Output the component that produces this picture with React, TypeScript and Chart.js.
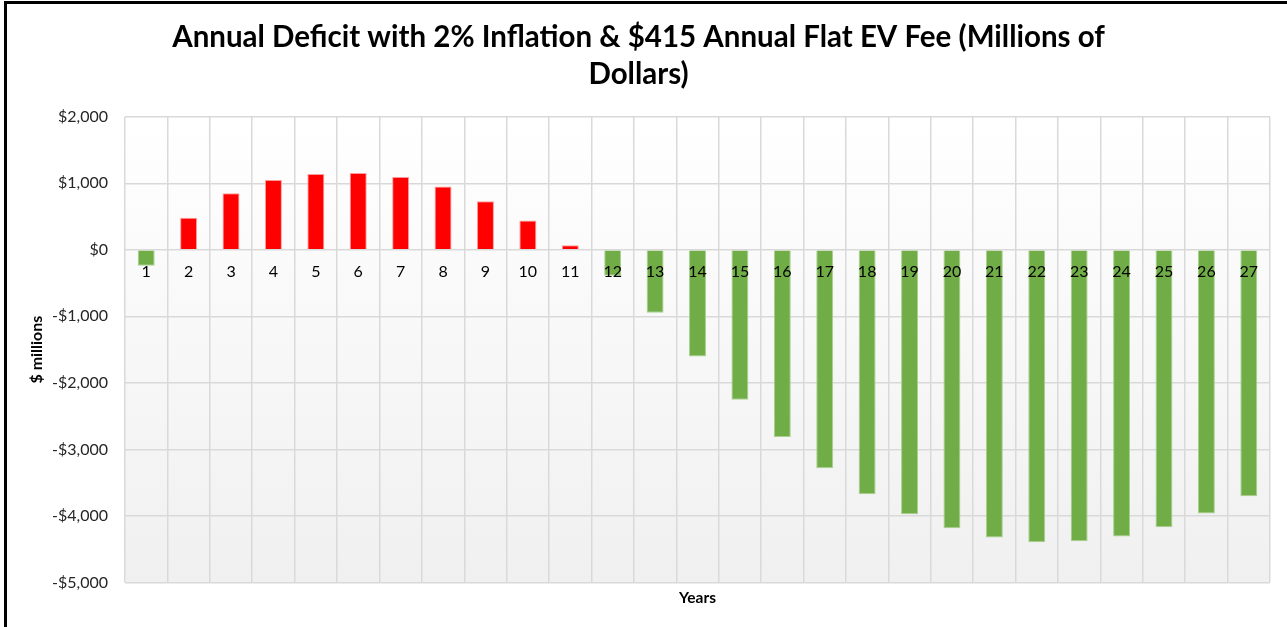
import React, { useEffect, useRef } from "react";
import { Chart, registerables } from "chart.js";

Chart.register(...registerables);

const years: string[] = [
  "1", "2", "3", "4", "5", "6", "7", "8", "9", "10", "11", "12", "13", "14",
  "15", "16", "17", "18", "19", "20", "21", "22", "23", "24", "25", "26", "27",
];

const deficit: number[] = [
  -240, 480, 850, 1050, 1140, 1155, 1095, 950, 730, 440, 70, -390, -945, -1605,
  -2255, -2815, -3285, -3675, -3975, -4185, -4325, -4395, -4380, -4310, -4170,
  -3965, -3705,
];

const titleLines: string[] = [
  "Annual Deficit with 2% Inflation & $415 Annual Flat EV Fee (Millions of",
  "Dollars)",
];

const yMin = -5000;
const yMax = 2000;
const yStep = 1000;

const FONT = "Lato, 'Open Sans', sans-serif";

const plotBackground = {
  id: "plotBackground",
  beforeDraw(chart: any) {
    const { ctx, chartArea } = chart;
    if (!chartArea) return;
    const g = ctx.createLinearGradient(0, chartArea.top, 0, chartArea.bottom);
    g.addColorStop(0, "#ffffff");
    g.addColorStop(1, "#f0f0f0");
    ctx.save();
    ctx.fillStyle = g;
    ctx.fillRect(chartArea.left, chartArea.top, chartArea.right - chartArea.left, chartArea.bottom - chartArea.top);
    ctx.restore();
  },
};

function fmtDollar(v: number): string {
  const abs = Math.abs(v).toLocaleString("en-US");
  return (v < 0 ? "-$" : "$") + abs;
}

export default function App() {
  const canvasRef = useRef<HTMLCanvasElement | null>(null);

  useEffect(() => {
    document.body.style.margin = "0";
    const canvas = canvasRef.current;
    if (!canvas) return;
    const chart = new Chart(canvas, {
      type: "bar",
      data: {
        labels: years,
        datasets: [
          {
            data: deficit,
            backgroundColor: deficit.map((v) => (v >= 0 ? "#ff0000" : "#70ad47")),
            borderColor: deficit.map((v) => (v >= 0 ? "#ff9a9a" : "#a9d18e")),
            borderWidth: 1,
            barPercentage: 0.4,
            categoryPercentage: 1,
          },
        ],
      },
      options: {
        animation: false,
        responsive: false,
        maintainAspectRatio: false,
        layout: { padding: { left: 0, right: 17, top: 0, bottom: 0 } },
        plugins: {
          legend: { display: false },
          tooltip: { enabled: false },
          title: {
            display: true,
            text: titleLines,
            color: "#000000",
            font: { family: FONT, size: 29.5, weight: "bold", lineHeight: 1.25 },
            padding: { top: 15.5, bottom: 23.5 },
          },
          subtitle: {
            display: true,
            text: "Years",
            position: "bottom",
            fullSize: false,
            color: "#000000",
            font: { family: FONT, size: 15.5, weight: "bold", lineHeight: 1.2 },
            padding: { top: 6, bottom: 20 },
          },
        },
        scales: {
          x: {
            position: { y: 0 } as any,
            offset: true,
            grid: {
              display: true,
              offset: true,
              color: "#d9d9d9",
              lineWidth: 1.5,
              drawTicks: false,
            },
            border: { display: false },
            ticks: {
              z: 1,
              color: "#000000",
              font: { family: FONT, size: 16 },
              padding: 12,
              maxRotation: 0,
              autoSkip: false,
            },
          },
          y: {
            min: yMin,
            max: yMax,
            afterFit(scale: any) {
              scale.width = 118;
            },
            grid: { color: "#d9d9d9", lineWidth: 1.5, drawTicks: false },
            border: { display: false },
            ticks: {
              stepSize: yStep,
              color: "#262626",
              font: { family: FONT, size: 16 },
              padding: 17,
              callback: (v: any) => fmtDollar(Number(v)),
            },
            title: {
              display: true,
              text: "$ millions",
              color: "#000000",
              font: { family: FONT, size: 16, weight: "bold" },
              padding: { top: 20, bottom: 0 },
            },
          },
        },
      },
      plugins: [plotBackground],
    });
    return () => chart.destroy();
  }, []);

  return (
    <div style={{ position: "relative", width: 1287, height: 627, overflow: "hidden", background: "#ffffff" }}>
      <div
        style={{
          position: "absolute",
          left: 4,
          top: 1,
          width: 1400,
          height: 800,
          borderLeft: "3px solid #000",
          borderTop: "3px solid #000",
          boxSizing: "border-box",
        }}
      />
      <canvas
        ref={canvasRef}
        width={1280}
        height={623}
        style={{ position: "absolute", left: 7, top: 4, width: 1280, height: 623 }}
      />
    </div>
  );
}
